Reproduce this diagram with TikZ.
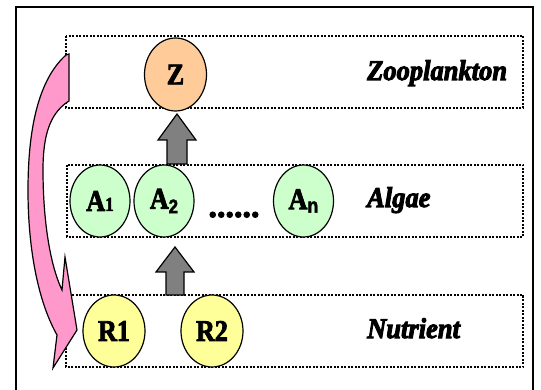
\documentclass[tikz,border=0pt]{standalone}
\usepackage{fontspec}
\usepackage{graphicx}
\setmainfont{Liberation Serif}[
  BoldFeatures={FakeBold=3},
  BoldItalicFeatures={FakeBold=3.5}]
\newfontfamily\subsans{Liberation Sans}[BoldFeatures={FakeBold=2}]
\usetikzlibrary{shapes.geometric}

\definecolor{peach}{HTML}{FFCC99}
\definecolor{mint}{HTML}{CCFFCC}
\definecolor{lemon}{HTML}{FFFF99}
\definecolor{rosy}{HTML}{FF99CC}
\definecolor{blockgray}{HTML}{808080}

% letters in the ellipses are drawn slightly taller than wide
\newcommand\tallbox[1]{\scalebox{1}[1.15]{#1}}

\tikzset{
  species/.style={ellipse, draw=black, line width=1.2pt,
    minimum width=60pt, minimum height=72pt, inner sep=0pt,
    font=\fontsize{26}{26}\selectfont\bfseries},
  layerbox/.style={draw=black, line width=1.6pt, dash pattern=on 2pt off 1.5pt},
  layerlabel/.style={anchor=base west, inner sep=0pt,
    font=\fontsize{26.5}{27}\selectfont\bfseries\itshape},
  blockarrow/.style={fill=blockgray, draw=black, line width=1.2pt, line join=miter},
}

\begin{document}
\begin{tikzpicture}[x=1pt, y=-1pt]
\useasboundingbox (0,0) rectangle (541,390);

% outer frame (its bottom edge lies below the page)
\draw[line width=1.1pt] (16,400) -- (16,7) -- (533,7) -- (533,400);

% layer boxes
\draw[layerbox] (66,36) rectangle (523,108);
\draw[layerbox] (67,165) rectangle (523,237);
\draw[layerbox] (66,295) rectangle (523,367);

% layer labels
\node[layerlabel] (lz) at (367,80) {\scalebox{1}[1.08]{Zooplankton}};
\node[layerlabel] (la) at (367,207) {\scalebox{1}[1.08]{Algae}};
\node[layerlabel] (ln) at (367,338) {\scalebox{1}[1.08]{Nutrient}};

% grey block arrows between the layers
\draw[blockarrow] (177,114) -- (196,140) -- (187,140) -- (187,164)
  -- (167,164) -- (167,140) -- (158,140) -- cycle;
\draw[blockarrow] (175,247) -- (194,272) -- (184,272) -- (184,295)
  -- (166,295) -- (166,272) -- (156,272) -- cycle;

% species
\node[species, fill=peach, minimum width=62pt, minimum height=73pt] (Z) at (175.5,74.5) {\tallbox{Z}};
\node[species, fill=mint] (A1) at (100,201) {\tallbox{A{\fontsize{17}{17}\selectfont 1}}};
\node[species, fill=mint] (A2) at (164,201) {\tallbox{A\raisebox{-4pt}{\subsans\fontsize{17}{17}\selectfont 2}}};
\node[species, fill=mint] (An) at (303.5,201) {\tallbox{A\raisebox{-3pt}{\subsans\fontsize{18}{18}\selectfont n}}};
\node[inner sep=0pt, anchor=base, font=\fontsize{34}{34}\selectfont\bfseries] (dots) at (234,217) {......};
\node[species, fill=lemon, minimum width=62pt] (R1) at (114,331) {\tallbox{R1}};
\node[species, fill=lemon, minimum width=62pt] (R2) at (212,331) {\tallbox{R2}};

% pink curved return arrow from the zooplankton layer down to the nutrients
\draw[fill=rosy, line width=1.2pt, line join=miter]
  (69,54) -- (69,101) -- (66,103)
  .. controls (50,115) and (43,135) .. (43,170)
  .. controls (43,220) and (50,265) .. (62,290)
  -- (65,257) -- (77,330) -- (53,368) -- (57,335)
  .. controls (40,305) and (28,255) .. (28,190)
  .. controls (28,130) and (38,80) .. (66,55) -- cycle;
\end{tikzpicture}
\end{document}
